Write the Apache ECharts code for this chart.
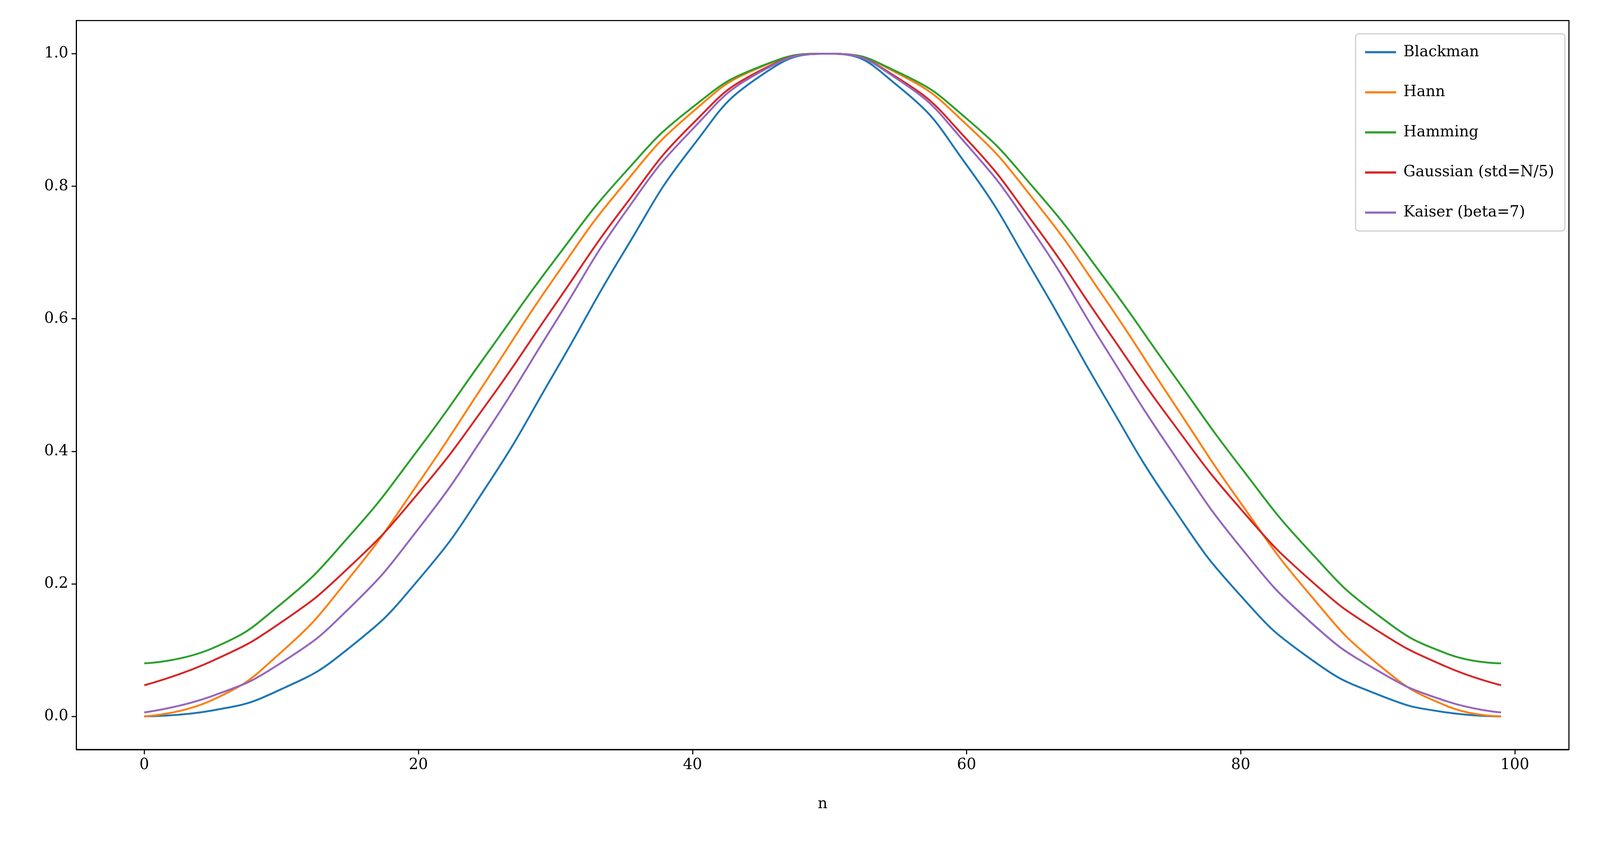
<!DOCTYPE html>
<html><head><meta charset="utf-8">
<script src="https://cdn.jsdelivr.net/npm/echarts@6/dist/echarts.min.js"></script>
<style>html,body{margin:0;padding:0;background:#fff;overflow:hidden}#c{width:100vw;height:100vh}</style>
</head><body><div id="c"></div>
<script>
const nVals = [0,5,10,15,20,25,30,35,40,45,50,55,60,65,70,75,80,85,90,95,99];
const blackman = [0,0.009,0.041,0.104,0.206,0.348,0.521,0.701,0.860,0.967,1.000,0.951,0.832,0.666,0.485,0.317,0.182,0.088,0.033,0.006,0];
const hann = [0,0.025,0.097,0.210,0.352,0.508,0.664,0.803,0.912,0.980,1.000,0.970,0.893,0.777,0.633,0.476,0.322,0.185,0.079,0.016,0];
const hamming = [0.08,0.103,0.170,0.273,0.403,0.547,0.690,0.819,0.919,0.981,1.000,0.972,0.902,0.795,0.663,0.518,0.376,0.250,0.153,0.095,0.08];
const gaussian = [0.047,0.084,0.142,0.226,0.337,0.472,0.622,0.769,0.894,0.975,1.000,0.963,0.871,0.741,0.591,0.444,0.313,0.207,0.129,0.075,0.047];
const kaiser = [0.006,0.031,0.081,0.164,0.283,0.430,0.595,0.758,0.886,0.973,1.000,0.961,0.863,0.727,0.560,0.399,0.255,0.144,0.069,0.023,0.006];
const seriesNames = ['Blackman','Hann','Hamming','Gaussian (std=N/5)','Kaiser (beta=7)'];
const seriesData = [blackman,hann,hamming,gaussian,kaiser];
const colors = ['#1f77b4','#ff7f0e','#2ca02c','#d62728','#9467bd'];
const xTicks = [0,20,40,60,80,100];
const yTicks = [0,0.2,0.4,0.6,0.8,1.0];
const font = 'DejaVu Serif';
const el = document.getElementById('c');
const W = el.clientWidth, s = W/5925;
const chart = echarts.init(el);
const gl=283*s, gr=115*s, gt=76*s, gb=372*s;
chart.setOption({
  animation:false,
  textStyle:{fontFamily:font},
  grid:{left:gl,right:gr,top:gt,bottom:gb},
  legend:{
    right:130*s,top:125*s,orient:'vertical',itemWidth:115*s,itemHeight:8*s,itemGap:92*s,
    padding:[40*s,40*s,40*s,35*s],borderColor:'#ccc',borderWidth:4*s,borderRadius:12*s,backgroundColor:'rgba(255,255,255,0.8)',
    textStyle:{fontFamily:font,fontSize:56*s,color:'#000',padding:[0,0,0,20*s]},
    icon:'rect'
  },
  xAxis:{type:'value',min:-4.95,max:103.95,name:'n',nameLocation:'middle',nameGap:175*s,
    nameTextStyle:{fontSize:56*s,color:'#000',fontFamily:font},
    axisLine:{onZero:false,lineStyle:{color:'#000',width:4*s}},
    axisTick:{customValues:xTicks,length:18*s,lineStyle:{color:'#000',width:4*s}},
    axisLabel:{customValues:xTicks,fontSize:56*s,color:'#000',margin:30*s,fontFamily:font},
    splitLine:{show:false}},
  yAxis:{type:'value',min:-0.05,max:1.05,
    axisLine:{show:true,onZero:false,lineStyle:{color:'#000',width:4*s}},
    axisTick:{show:true,customValues:yTicks,length:18*s,lineStyle:{color:'#000',width:4*s}},
    axisLabel:{customValues:yTicks,fontSize:56*s,color:'#000',margin:30*s,fontFamily:font,formatter:v=>v.toFixed(1)},
    splitLine:{show:false}},
  series:seriesNames.map((nm,i)=>({
    name:nm,type:'line',showSymbol:false,smooth:0.5,color:colors[i],
    lineStyle:{width:7*s,color:colors[i]},
    data:nVals.map((x,j)=>[x,seriesData[i][j]])
  })),
  graphic:[{type:'rect',shape:{x:gl,y:gt,width:W-gl-gr,height:el.clientHeight-gt-gb},style:{fill:'none',stroke:'#000',lineWidth:4*s},silent:true,z:-1}]
});
</script></body></html>
